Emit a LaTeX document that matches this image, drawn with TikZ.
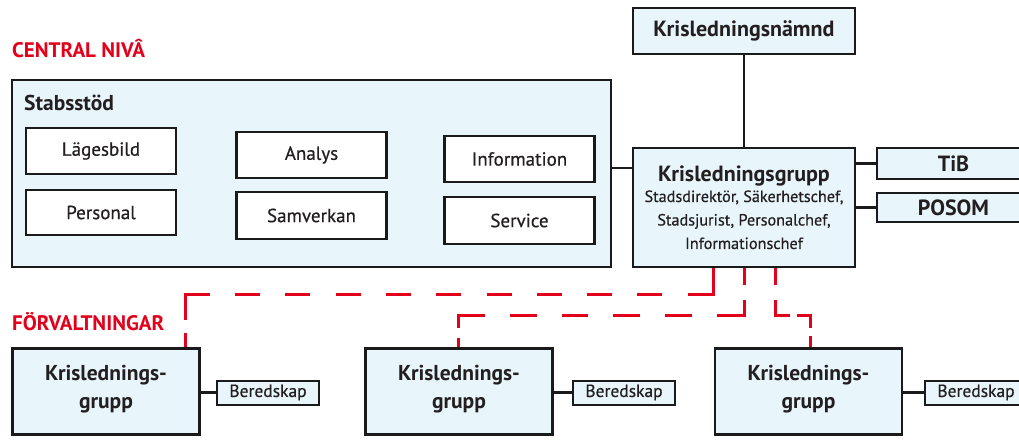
\documentclass[tikz,border=0pt]{standalone}
\usepackage{fontspec}
\setmainfont{PT Sans}[UprightFeatures={FakeBold=0.5}]
\definecolor{redc}{HTML}{E2001A}
\definecolor{linec}{HTML}{1A1A1A}
\definecolor{fillc}{HTML}{E8F5FB}
\definecolor{textc}{HTML}{231F20}
\begin{document}
\begin{tikzpicture}[x=1pt,y=-1pt,
  box/.style={draw=linec, line width=2.5pt, fill=fillc, inner sep=0pt, text=textc, align=center},
  wbox/.style={box, fill=white, minimum width=150pt, font=\fontsize{19}{22}\selectfont},
  tbox/.style={box, font=\bfseries\fontsize{22}{26}\selectfont},
  kbox/.style={box, minimum width=187pt, minimum height=86pt, text height=38pt, font=\bfseries\fontsize{21.5}{27.5}\selectfont},
  bbox/.style={box, line width=2pt, minimum width=102pt, minimum height=24pt, font=\fontsize{17.5}{20}\selectfont},
  conn/.style={draw=linec, line width=2.5pt},
  dline/.style={draw=redc, line width=3pt},
  head/.style={anchor=base west, inner sep=0pt, text=redc, font=\bfseries\fontsize{21}{24}\selectfont}
]
\path[use as bounding box, fill=white] (0,0) rectangle (1019,439);
\clip (0,0) rectangle (1019,439);

% headers
\node[head] (central) at (12,57) {CENTRAL NIVÂ};
\node[head] (forv) at (12,330) {FÖRVALTNINGAR};

% Stabsstöd
\node[box, minimum width=599pt, minimum height=187pt] (stab) at (311.5,173.5) {};
\node[anchor=base west, inner sep=0pt, text=textc, font=\bfseries\fontsize{21.5}{24}\selectfont] (stabt) at (24,110) {Stabsstöd};
\node[wbox, minimum height=46pt] (lage) at (101,151) {Lägesbild};
\node[wbox, minimum height=45pt] (pers) at (101,212.5) {Personal};
\node[wbox, minimum height=46pt] (anal) at (311.5,155) {Analys};
\node[wbox, minimum height=47pt] (samv) at (311.5,215.5) {Samverkan};
\node[wbox, minimum height=46pt] (info) at (519.5,159) {Information};
\node[wbox, minimum height=47pt] (serv) at (519.5,220.5) {Service};

% central right
\node[tbox, minimum width=222pt, minimum height=46pt] (namnd) at (744,31) {Krisledningsnämnd};
\node[box, minimum width=222pt, minimum height=119pt, font=\fontsize{16.2}{23.5}\selectfont] (grupp) at (744,207.5)
  {{\bfseries\fontsize{22}{26}\selectfont Krisledningsgrupp}\\[-3pt]
   Stadsdirektör, Säkerhetschef,\\ Stadsjurist, Personalchef,\\ Informationschef};
\node[tbox, minimum width=153pt, minimum height=31pt] (tib) at (953.5,163.5) {TiB};
\node[tbox, minimum width=153pt, minimum height=29pt] (posom) at (953.5,207.5) {POSOM};

\coordinate (c1) at (622,168);
\draw[conn] (stab.east |- c1) -- (grupp.west |- c1);
\draw[conn] (namnd.south) -- (grupp.north);
\draw[conn] (grupp.east |- tib) -- (tib.west);
\draw[conn] (grupp.east |- posom) -- (posom.west);

% bottom
\node[kbox] (k1) at (106,391.5) {Krislednings-\\grupp};
\node[kbox] (k2) at (459,391.5) {Krislednings-\\grupp};
\node[kbox] (k3) at (808.5,391.5) {Krislednings-\\grupp};
\node[bbox] (b1) at (268,392.5) {Beredskap};
\node[bbox] (b2) at (624,392.5) {Beredskap};
\node[bbox] (b3) at (976,392.5) {Beredskap};
\draw[conn] (k1.east |- b1) -- (b1.west);
\draw[conn] (k2.east |- b2) -- (b2.west);
\draw[conn] (k3.east |- b3) -- (b3.west);

% dashed links
\coordinate (d1) at (713,294);
\coordinate (d1b) at (185,294);
\coordinate (d2) at (744,315);
\coordinate (d2b) at (458,315);
\coordinate (d3) at (775,315);
\coordinate (d3b) at (810,315);
\draw[dline, dash pattern=on 51pt off 25.3pt on 25pt off 25.3pt on 25pt off 25.3pt on 25pt off 25.3pt on 25pt off 25.3pt on 25pt off 25.3pt on 25pt off 25.3pt on 25pt off 25.3pt on 25pt off 25.3pt on 25pt off 25.3pt on 51pt off 13pt on 30pt]
  (grupp.south -| d1) -- (d1) -- (d1b) -- (k1.north -| d1b);
\draw[dline, dash pattern=on 17pt off 15pt on 42pt off 25pt on 27pt off 25pt on 27pt off 25pt on 26pt off 25pt on 27pt off 25pt on 40pt off 10pt on 30pt]
  (grupp.south -| d2) -- (d2) -- (d2b) -- (k2.north -| d2b);
\draw[dline, dash pattern=on 17pt off 15pt on 30pt off 7pt on 26pt off 8pt on 30pt]
  (grupp.south -| d3) -- (d3) -- (d3b) -- (k3.north -| d3b);
\end{tikzpicture}
\end{document}
